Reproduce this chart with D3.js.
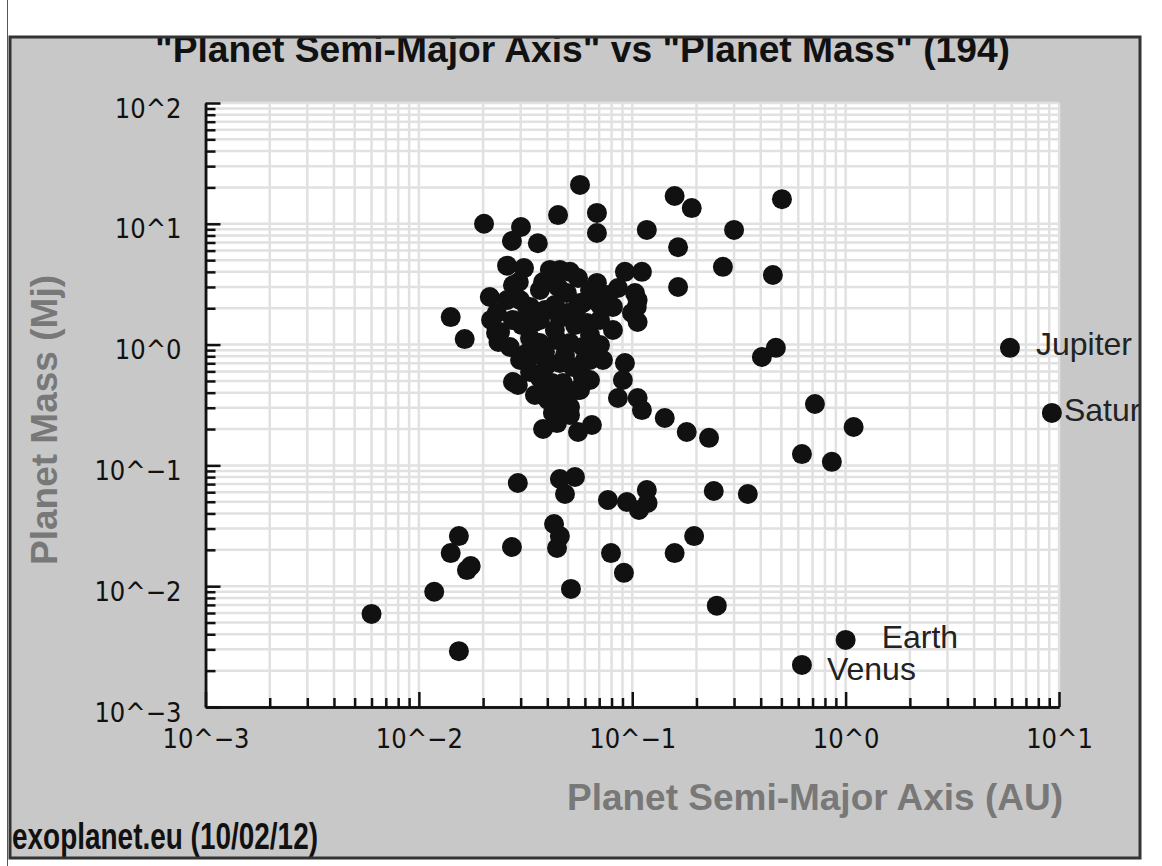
<!DOCTYPE html>
<html>
<head>
<meta charset="utf-8">
<script src="https://cdn.jsdelivr.net/npm/d3@7"></script>
<style>
  html, body { margin: 0; padding: 0; background: #ffffff; }
  svg { display: block; }
</style>
</head>
<body>
<svg id="chart" width="1162" height="866"></svg>
<script>
// Exoplanets: semi-major axis (AU) and mass (Jupiter masses)
const semiMajorAxis = [
  0.0060, 0.0118, 0.0154, 0.0154, 0.0141, 0.0175, 0.0168, 0.0141, 0.0164, 0.0291,
  0.0273, 0.0458, 0.0539, 0.0484, 0.0769, 0.0944, 0.117, 0.118, 0.1075, 0.241,
  0.348, 0.0430, 0.0458, 0.0444, 0.0795, 0.0914, 0.0516, 0.158, 0.195, 0.249,
  0.158, 0.190, 0.503, 0.300, 0.164, 0.266, 0.456, 0.164, 0.405, 0.471,
  0.718, 1.09, 0.624, 0.862, 0.142, 0.180, 0.229, 0.0202, 0.0301, 0.0273,
  0.0361, 0.0449, 0.0569, 0.0683, 0.0683, 0.117, 0.0259, 0.0311, 0.0294, 0.0276,
  0.0411, 0.0382, 0.0369, 0.0215, 0.0259, 0.0321, 0.0924, 0.111, 0.0683, 0.0857,
  0.0769, 0.103, 0.106, 0.0458, 0.0511, 0.0557, 0.0449, 0.0494, 0.0587, 0.0551,
  0.0232, 0.0240, 0.0236, 0.0267, 0.0332, 0.0304, 0.0369, 0.0321, 0.0398, 0.0421,
  0.0434, 0.0425, 0.0276, 0.0291, 0.0382, 0.0812, 0.105, 0.0997, 0.0812, 0.106,
  0.0613, 0.0729, 0.0924, 0.0904, 0.0857, 0.106, 0.111, 0.0634, 0.0569, 0.0647,
  0.0557, 0.0511, 0.0444, 0.0494, 0.0569, 0.0444, 0.0511, 0.0587, 0.0458, 0.0527,
  0.0587, 0.0473, 0.0551, 0.0444, 0.0511, 0.0390, 0.0434, 0.0276, 0.0332, 0.0434,
  0.0390, 0.0484, 0.0332, 0.0369, 0.0218, 0.0230, 0.0403, 0.0350, 0.0350, 0.0458,
  0.0634, 0.0706, 0.0298, 0.0634, 0.0706, 0.0350, 0.0403, 0.0484, 0.0600, 0.0298,
  0.0369, 0.0539, 0.0706, 0.0634
];
const planetMass = [
  0.0059, 0.0090, 0.0029, 0.026, 0.0188, 0.0147, 0.0136, 1.69, 1.11, 0.0715,
  0.0211, 0.0771, 0.0802, 0.058, 0.0517, 0.0498, 0.0626, 0.0488, 0.0427, 0.0614,
  0.058, 0.0327, 0.026, 0.0207, 0.0188, 0.0129, 0.0095, 0.0188, 0.026, 0.0069,
  17.0, 13.5, 16.0, 8.9, 6.4, 4.4, 3.77, 3.0, 0.79, 0.94,
  0.322, 0.208, 0.124, 0.107, 0.247, 0.189, 0.169, 10.0, 9.4, 7.2,
  6.9, 11.8, 21.0, 12.3, 8.4, 8.9, 4.5, 4.3, 3.3, 3.1,
  4.15, 3.3, 2.83, 2.48, 2.34, 2.05, 4.0, 4.0, 3.24, 2.94,
  2.57, 2.67, 2.34, 4.15, 4.0, 3.56, 3.0, 2.67, 2.21, 2.01,
  1.83, 1.27, 1.05, 0.955, 2.05, 1.45, 1.03, 0.852, 0.678, 0.481,
  0.348, 0.272, 0.49, 0.463, 0.200, 2.05, 2.05, 1.83, 1.32, 1.54,
  1.51, 0.746, 0.704, 0.509, 0.361, 0.361, 0.287, 0.509, 0.421, 0.216,
  0.189, 0.261, 0.224, 1.83, 2.21, 1.09, 1.03, 0.955, 0.704, 0.653,
  0.539, 0.481, 0.421, 0.348, 0.304, 1.93, 2.13, 1.60, 1.13, 1.32,
  0.868, 0.82, 0.593, 0.529, 1.60, 1.25, 0.348, 0.383, 1.54, 1.66,
  1.20, 0.992, 0.746, 0.746, 1.60, 0.82, 0.405, 0.383, 0.746, 2.34,
  1.60, 1.45, 2.13, 2.83
];

// Solar-system reference planets
const solarNames = ["Jupiter", "Saturn", "Earth", "Venus"];
const solarAxis  = [5.89, 9.26, 1.0, 0.624];
const solarMass  = [0.94, 0.272, 0.00359, 0.00223];

// Axis decades
const xDecades = [-3, -2, -1, 0, 1];
const yDecades = [-3, -2, -1, 0, 1, 2];
const tickLabel = e => "10^" + (e < 0 ? "\u2212" + (-e) : e);

const titleText = "\"Planet Semi-Major Axis\"  vs \"Planet Mass\" (194)";
const xTitle = "Planet Semi-Major Axis (AU)";
const yTitle = "Planet Mass (Mj)";
const footer = "exoplanet.eu (10/02/12)";

const svg = d3.select("#chart");
const W = 1162, H = 866;

const plot = { left: 205.5, right: 1059, top: 103, bottom: 707 };
const x = d3.scaleLog().domain([1e-3, 1e1]).range([plot.left, plot.right]);
const y = d3.scaleLog().domain([1e-3, 1e2]).range([plot.bottom, plot.top]);

// page edge line
svg.append("line").attr("x1", 7.5).attr("x2", 7.5).attr("y1", 0).attr("y2", H)
  .attr("stroke", "#555").attr("stroke-width", 1);

// grey panel
const panel = { x: 10, y: 37, w: 1130, h: 821 };
svg.append("defs").append("clipPath").attr("id", "panelClip")
  .append("rect").attr("x", panel.x).attr("y", panel.y).attr("width", panel.w).attr("height", panel.h);

svg.append("rect")
  .attr("x", panel.x).attr("y", panel.y).attr("width", panel.w).attr("height", panel.h)
  .attr("fill", "#c8c8c8");

const g = svg.append("g").attr("clip-path", "url(#panelClip)");

// white plotting area
g.append("rect")
  .attr("x", plot.left).attr("y", plot.top)
  .attr("width", plot.right - plot.left).attr("height", plot.bottom - plot.top)
  .attr("fill", "#ffffff");

// minor/major tick values per decade
function decadeValues(decades) {
  const vals = [];
  for (let i = 0; i < decades.length - 1; i++) {
    const base = Math.pow(10, decades[i]);
    for (let k = 1; k <= 9; k++) vals.push(k * base);
  }
  vals.push(Math.pow(10, decades[decades.length - 1]));
  return vals;
}
const xAll = decadeValues(xDecades);
const yAll = decadeValues(yDecades);
const xMajor = xDecades.map(e => Math.pow(10, e));
const yMajor = yDecades.map(e => Math.pow(10, e));
const isMajor = (majors, v) => majors.some(m => Math.abs(m - v) / m < 1e-9);
const xMinor = xAll.filter(v => !isMajor(xMajor, v));
const yMinor = yAll.filter(v => !isMajor(yMajor, v));

// grid
const grid = g.append("g").attr("stroke", "#e1e1e1").attr("stroke-width", 2.5);
grid.selectAll("line.v").data(xAll).join("line").attr("class", "v")
  .attr("x1", d => x(d)).attr("x2", d => x(d))
  .attr("y1", plot.top).attr("y2", plot.bottom);
grid.selectAll("line.h").data(yAll).join("line").attr("class", "h")
  .attr("x1", plot.left).attr("x2", plot.right)
  .attr("y1", d => y(d)).attr("y2", d => y(d));

// axes
const tickFont = "'DejaVu Sans Condensed', 'DejaVu Sans', sans-serif";

const yMinorAxis = g.append("g").attr("transform", `translate(${plot.left},0)`)
  .call(d3.axisLeft(y).tickValues(yMinor).tickSizeInner(-10).tickSizeOuter(0).tickFormat(""));
const yMajorAxis = g.append("g").attr("transform", `translate(${plot.left},0)`)
  .call(d3.axisLeft(y).tickValues(yMajor).tickSizeInner(-15).tickSizeOuter(0)
    .tickPadding(24).tickFormat((d, i) => tickLabel(yDecades[i])));

const xMinorAxis = g.append("g").attr("transform", `translate(0,${plot.bottom})`)
  .call(d3.axisBottom(x).tickValues(xMinor).tickSizeInner(-9).tickSizeOuter(0).tickFormat(""));
const xMajorAxis = g.append("g").attr("transform", `translate(0,${plot.bottom})`)
  .call(d3.axisBottom(x).tickValues(xMajor).tickSizeInner(-15).tickSizeOuter(0)
    .tickPadding(14).tickFormat((d, i) => tickLabel(xDecades[i])));

[yMinorAxis, yMajorAxis, xMinorAxis, xMajorAxis].forEach(a => {
  a.selectAll("path.domain").attr("stroke", "#111").attr("stroke-width", 2.5);
  a.selectAll(".tick line").attr("stroke", "#111").attr("stroke-width", 2.5);
  a.selectAll(".tick text").attr("fill", "#111")
    .style("font-family", tickFont).style("font-size", "27px");
});
yMajorAxis.selectAll(".tick text").attr("x", -24).attr("dy", "0.52em");
xMajorAxis.selectAll(".tick text").attr("dy", "1.0em");

// exoplanets
g.append("g").selectAll("circle.exo")
  .data(d3.range(semiMajorAxis.length))
  .join("circle").attr("class", "exo")
  .attr("cx", i => x(semiMajorAxis[i]))
  .attr("cy", i => y(planetMass[i]))
  .attr("r", 10)
  .attr("fill", "#111");

// solar-system planets and their names
const labelOffset = { Jupiter: [26, 7], Saturn: [12, 8], Earth: [36, 8], Venus: [25, 15] };
const solar = g.append("g");
solar.selectAll("circle").data(solarNames).join("circle")
  .attr("cx", (d, i) => x(solarAxis[i]))
  .attr("cy", (d, i) => y(solarMass[i]))
  .attr("r", 10).attr("fill", "#111");
solar.selectAll("text").data(solarNames).join("text")
  .attr("x", (d, i) => x(solarAxis[i]) + labelOffset[d][0])
  .attr("y", (d, i) => y(solarMass[i]) + labelOffset[d][1])
  .attr("fill", "#222")
  .style("font-family", "'Liberation Sans', Arial, sans-serif")
  .style("font-size", "32px")
  .text(d => d);

// titles: bold sans squeezed to a narrow width
const boldFont = "'Liberation Sans', Arial, sans-serif";
function narrowText(sel, txt, xPos, yPos, len, size, color, transform) {
  const t = sel.append("text")
    .attr("x", xPos).attr("y", yPos)
    .attr("textLength", len).attr("lengthAdjust", "spacingAndGlyphs")
    .style("font-family", boldFont).style("font-weight", "bold").style("font-size", size + "px")
    .attr("fill", color).text(txt);
  if (transform) t.attr("transform", transform);
  return t;
}
narrowText(g, titleText, 155, 62, 855, 36, "#111");
narrowText(g, xTitle, 567, 810, 496, 37, "#787878");
narrowText(g, yTitle, 0, 0, 290, 37, "#787878", "translate(57,565) rotate(-90)");
narrowText(g, footer, 12, 849, 306, 37, "#111");

// panel frame
svg.append("rect")
  .attr("x", panel.x).attr("y", panel.y).attr("width", panel.w).attr("height", panel.h)
  .attr("fill", "none").attr("stroke", "#333").attr("stroke-width", 3);
</script>
</body>
</html>
